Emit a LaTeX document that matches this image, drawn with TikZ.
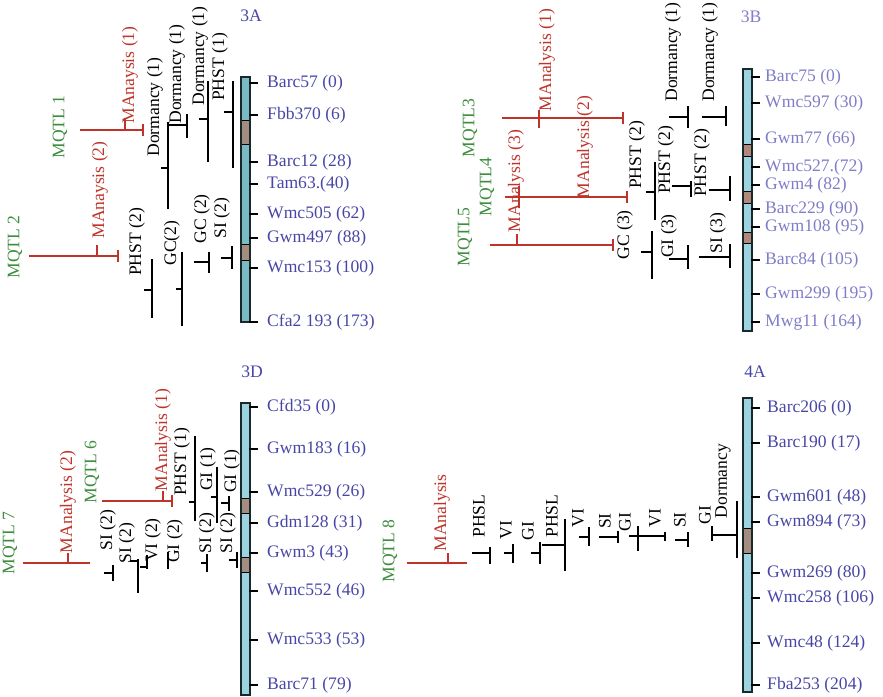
\documentclass[tikz,border=0pt]{standalone}
\usepackage{fontspec}
\setmainfont{Liberation Serif}

\definecolor{chromA}{RGB}{122,186,196}
\definecolor{chromB}{RGB}{155,212,224}
\definecolor{bandA}{RGB}{165,140,128}
\definecolor{bandB}{RGB}{178,136,124}
\definecolor{chromline}{RGB}{25,40,40}
\definecolor{locA}{RGB}{72,70,165}
\definecolor{locB}{RGB}{128,124,200}
\definecolor{metared}{RGB}{190,52,42}
\definecolor{metagreen}{RGB}{62,140,62}

\begin{document}
\begin{tikzpicture}[x = 0.03cm, y = -0.03cm,
    every node/.style = {font = \fontsize{15}{17}\selectfont, inner sep = 0pt},
    chrom/.style = {line width = 1.2pt, draw = chromline},
    qtlbar/.style = {line width = 1pt, line cap = rect},
    meta/.style = {line width = 1.2pt, color = metared},
    locus/.style = {anchor = west},
    trait/.style = {rotate = 90},
    mqtl/.style = {rotate = 90, text = metagreen},
    manal/.style = {rotate = 90, text = metared}]

        \useasboundingbox (0,0) rectangle (883,697);

        % draws the chromosomes
        \fill[chromA] (241,77) rectangle (250,322);
        \foreach \ya/\yb in {120/144, 244/260}
          \draw[line width = .6pt, fill = bandA] (241,\ya) rectangle (250,\yb);
        \draw[chrom] (241,77) rectangle (250,322);

        \fill[chromB] (743,69) rectangle (752,331);
        \foreach \ya/\yb in {144/156, 191/203, 232/243}
          \draw[line width = .6pt, fill = bandB] (743,\ya) rectangle (752,\yb);
        \draw[chrom] (743,69) rectangle (752,331);

        \fill[chromB] (241,403) rectangle (250,695);
        \foreach \ya/\yb in {498/513, 557/572}
          \draw[line width = .6pt, fill = bandA] (241,\ya) rectangle (250,\yb);
        \draw[chrom] (241,403) rectangle (250,695);

        \fill[chromB] (743,398) rectangle (752,692);
        \draw[line width = .6pt, fill = bandA] (743,528) rectangle (752,553);
        \draw[chrom] (743,398) rectangle (752,692);

        % draws the chromosome names
        \node[text = locA] (nameA) at (251,16) {3A};
        \node[text = locB] (nameB) at (751,17) {3B};
        \node[text = locA] (nameD) at (252,372) {3D};
        \node[text = locA] (nameE) at (755,372) {4A};

        % draws the markers
        \foreach \y/\lab [count = \i] in {83/Barc57 (0), 115/Fbb370 (6),
            162/Barc12 (28), 184/Tam63.(40), 214/Wmc505 (62), 238/Gwm497 (88),
            268/Wmc153 (100), 322/Cfa2 193 (173)}
          {
          \draw[qtlbar] (250,\y) -- (257,\y);
          \node[locus, text = locA] (mA\i) at (267,\y) {\lab};
          }
        \foreach \y/\lab [count = \i] in {77/Barc75 (0), 103/Wmc597 (30),
            139/Gwm77 (66), 167/Wmc527.(72), 185/Gwm4 (82), 209/Barc229 (90),
            227/Gwm108 (95), 260/Barc84 (105), 294/Gwm299 (195), 322/Mwg11 (164)}
          {
          \draw[qtlbar] (752,\y) -- (759,\y);
          \node[locus, text = locB] (mB\i) at (765,\y) {\lab};
          }
        \foreach \y/\lab [count = \i] in {407/Cfd35 (0), 449/Gwm183 (16),
            492/Wmc529 (26), 523/Gdm128 (31), 553/Gwm3 (43), 591/Wmc552 (46),
            640/Wmc533 (53), 685/Barc71 (79)}
          {
          \draw[qtlbar] (250,\y) -- (257,\y);
          \node[locus, text = locA] (mD\i) at (267,\y) {\lab};
          }
        \foreach \y/\lab [count = \i] in {408/Barc206 (0), 443/Barc190 (17),
            497/Gwm601 (48), 522/Gwm894 (73), 573/Gwm269 (80), 598/Wmc258 (106),
            643/Wmc48 (124), 685/Fba253 (204)}
          {
          \draw[qtlbar] (752,\y) -- (759,\y);
          \node[locus, text = locA] (mE\i) at (767,\y) {\lab};
          }

        % draws the qtl intervals
        \foreach \x/\ya/\yb/\ym/\xm in {168/123/208/168/162, 187/115/137/125/170,
            208/82/161/119/200, 233/82/167/112/225, 152/260/317/290/145,
            182/253/325/289/177, 209/253/272/262/195, 232/247/268/258/222,
            688/107/127/117/670, 726/107/125/117/703, 655/163/219/192/647,
            691/182/196/186/673, 730/177/200/190/710, 652/232/278/252/642,
            688/246/268/259/670, 730/245/267/257/700,
            113/566/580/573/105, 138/560/592/561/131, 147/556/568/567/141,
            168/553/568/560/168, 195/437/520/502/190, 217/468/522/497/212,
            229/497/510/503/222, 207/555/571/563/202, 237/553/567/560/230,
            490/548/563/553/473, 513/545/562/553/505, 540/543/563/553/532,
            565/520/570/545/543, 589/528/545/537/580, 618/532/542/537/600,
            638/527/550/536/630, 665/533/540/536/638, 688/533/546/540/676,
            712/527/540/535/712, 737/502/557/535/712}
          \draw[qtlbar] (\x,\ya) -- (\x,\yb) (\xm,\ym) -- (\x,\ym);

        % draws the trait names
        \foreach \x/\y/\lab [count = \i] in {155/107/Dormancy (1),
            177/74/Dormancy (1), 200/56/Dormancy (1), 220/67/PHST (1),
            137/242/PHST (2), 172/243/GC(2), 202/219/GC (2), 222/218/SI (2),
            673/52/Dormancy (1), 710/52/Dormancy (1), 637/155/PHST (2),
            666/160/PHST (2), 702/163/PHST (2), 625/235/GC (3), 669/236/GI (3),
            718/233/SI (3),
            108/530/SI (2), 127/543/SI (2), 153/540/VI (2), 175/541/GI (2),
            182/462/PHST (1), 208/469/GI (1), 232/471/GI (1), 207/533/SI (2),
            228/533/SI (2),
            479/516/PHSL, 506/530/VI, 528/531/GI, 552/516/PHSL, 578/518/VI,
            605/521/SI, 625/522/GI, 655/518/VI, 680/520/SI, 705/515/GI,
            723/481/Dormancy}
          \node[trait] (t\i) at (\x,\y) {\lab};

        % draws the meta qtl
        \foreach \y/\xa/\xb/\xv/\va/\vb in {130/80/143/125/118/130,
            256/29/118/97/245/256, 118/502/623/539/110/128,
            197/505/627/519/186/208, 245/490/613/517/234/245,
            501/102/172/163/491/501, 563/23/90/68/553/563,
            563/407/467/448/553/563}
          \draw[meta] (\xa,\y) -- (\xb,\y) (\xv,\va) -- (\xv,\vb);
        \foreach \x/\y in {143/130, 118/256, 623/118, 627/197, 613/245, 172/501}
          \draw[meta] (\x,\y - 6) -- (\x,\y + 6);

        \foreach \x/\y/\lab [count = \i] in {60/127/MQTL 1, 15/247/MQTL 2,
            470/128/MQTL3, 487/187/MQTL4, 465/237/MQTL5, 92/472/MQTL 6,
            10/543/MQTL 7, 390/551/MQTL 8}
          \node[mqtl] (q\i) at (\x,\y) {\lab};
        \foreach \x/\y/\lab [count = \i] in {130/75/MAnaysis (1),
            100/190/MAnaysis (2), 547/60/MAnalysis (1), 585/147/MAnalysis (2),
            516/181/MAnalysis (3), 163/440/MAnalysis (1), 68/502/MAnalysis (2),
            442/513/MAnalysis}
          \node[manal] (r\i) at (\x,\y) {\lab};
      \end{tikzpicture}
\end{document}
